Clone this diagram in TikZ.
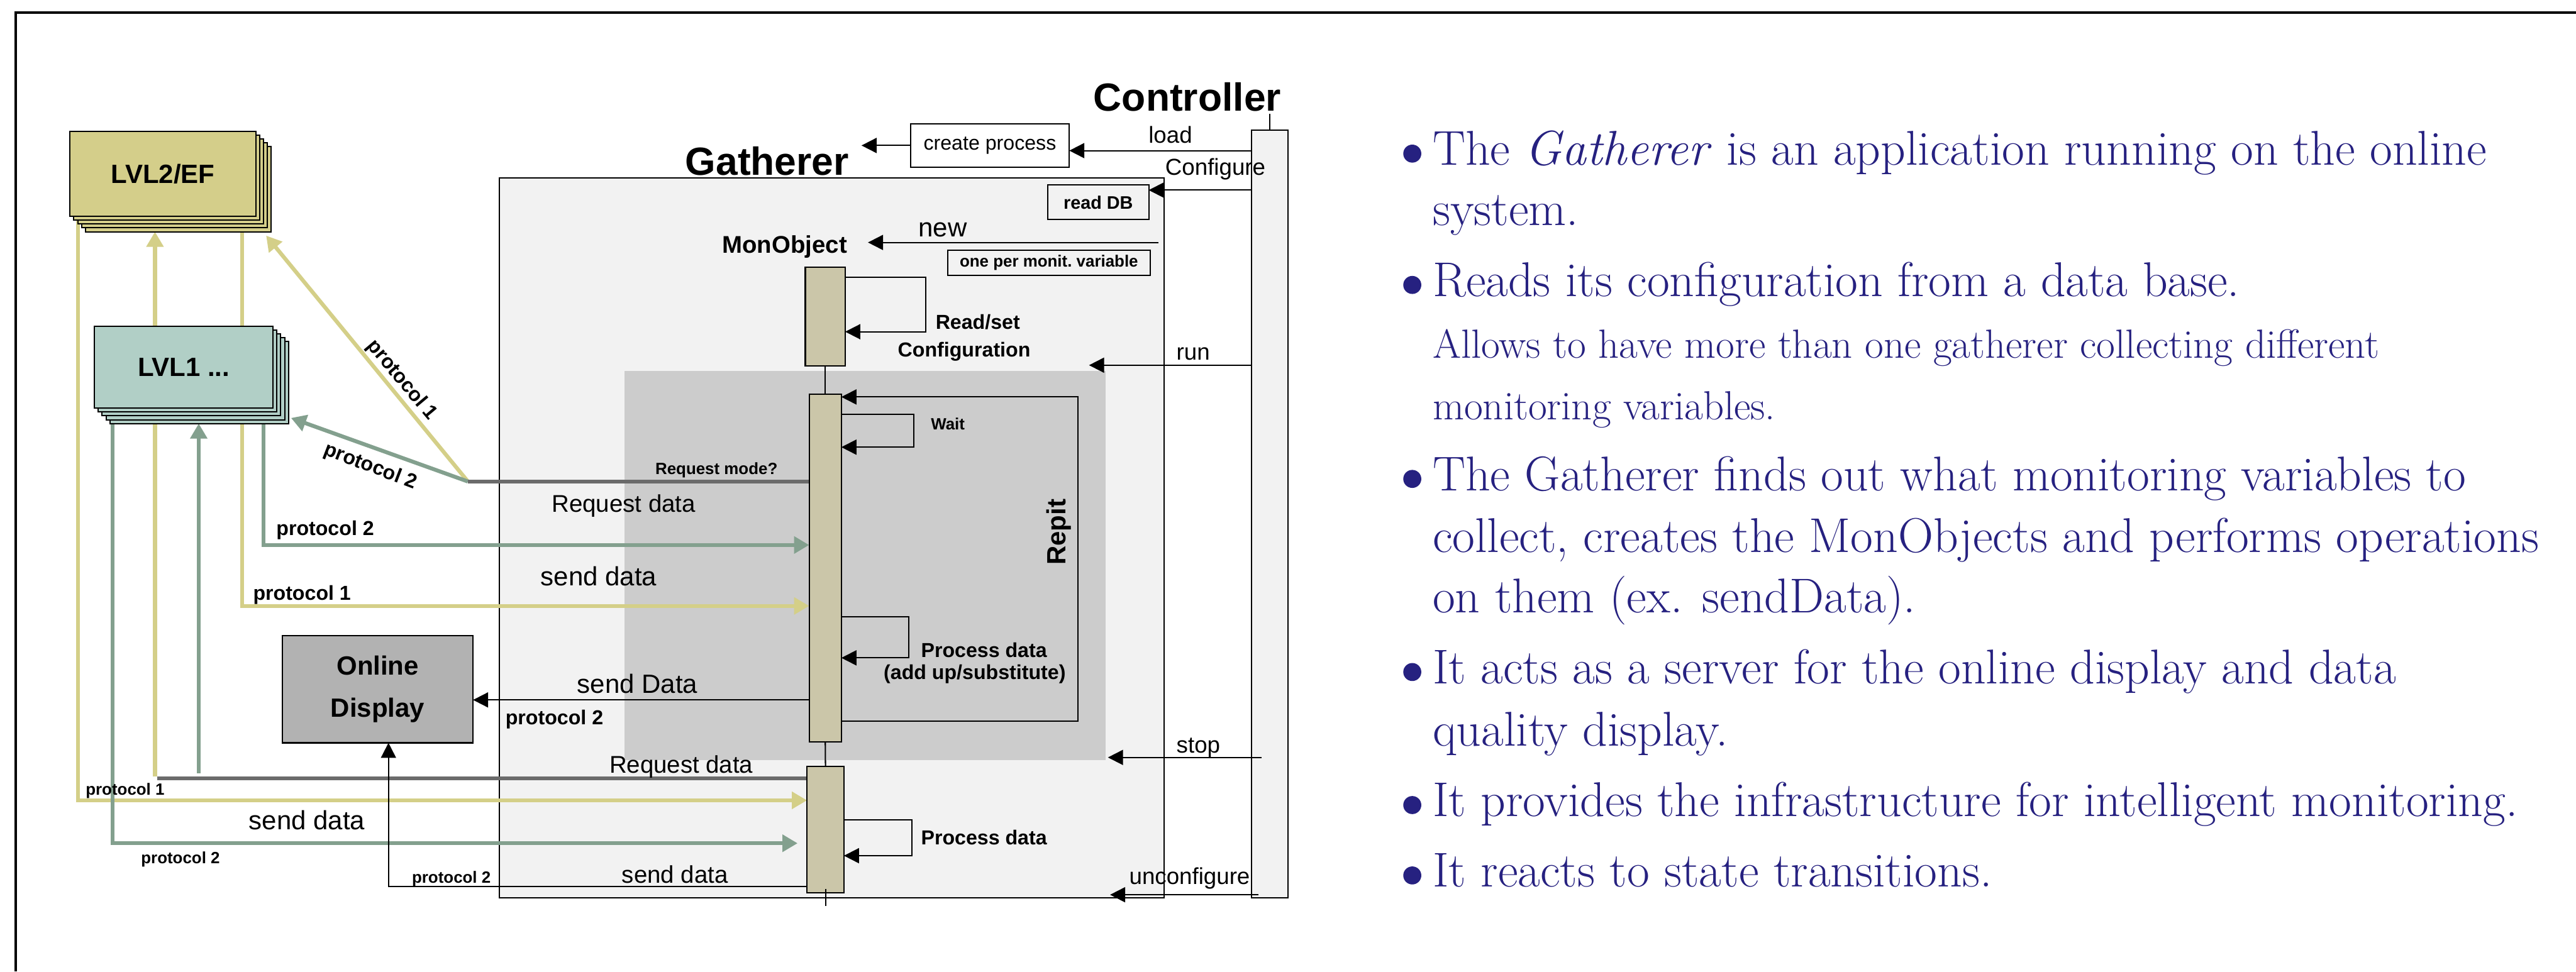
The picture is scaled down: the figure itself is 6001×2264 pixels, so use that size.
\documentclass[tikz,border=0pt]{standalone}
\usepackage{fontspec}
\newfontfamily\diagfont{Liberation Sans}
\usetikzlibrary{arrows.meta,backgrounds}

\definecolor{lvltwo}{RGB}{212,206,138}
\definecolor{lvlone}{RGB}{177,207,198}
\definecolor{protone}{RGB}{212,207,136}
\definecolor{prottwo}{RGB}{131,160,142}
\definecolor{reqgray}{RGB}{107,107,107}
\definecolor{gathbg}{RGB}{242,242,242}
\definecolor{repitbg}{RGB}{204,204,204}
\definecolor{actfill}{RGB}{203,198,169}
\definecolor{dispfill}{RGB}{178,178,178}
\definecolor{slideblue}{RGB}{38,33,128}

\tikzset{
  blk/.style={draw=black, line width=0.85pt},
  blkarrow/.style={blk, -{Triangle[length=10pt,width=10pt]}},
  colarrow/.style={-{Triangle[length=10pt,width=11pt]}},
  yelline/.style={draw=protone, line width=2.6pt},
  grnline/.style={draw=prottwo, line width=2.6pt},
  gryline/.style={draw=reqgray, line width=2.6pt},
  box/.style={draw=black, line width=0.85pt, inner sep=0pt, outer sep=0pt},
  actbox/.style={box, fill=actfill},
  lvltwobox/.style={box, fill=lvltwo, minimum width=43.3mm, minimum height=19.8mm},
  lvlonebox/.style={box, fill=lvlone, minimum width=41.6mm, minimum height=19.1mm},
  lbl/.style={inner sep=0pt, anchor=base west},
  headtxt/.style={font=\diagfont\bfseries\fontsize{26}{31}\selectfont},
  boldbig/.style={font=\diagfont\bfseries\fontsize{17.5}{21}\selectfont},
  boldmon/.style={font=\diagfont\bfseries\fontsize{16}{19}\selectfont},
  boldmid/.style={font=\diagfont\bfseries\fontsize{13.4}{16}\selectfont},
  boldread/.style={font=\diagfont\bfseries\fontsize{12}{14}\selectfont},
  boldsmall/.style={font=\diagfont\bfseries\fontsize{10.8}{13}\selectfont},
  plainbig/.style={font=\diagfont\fontsize{17.5}{21}\selectfont},
  plainmid/.style={font=\diagfont\fontsize{16}{19}\selectfont},
  plainctl/.style={font=\diagfont\fontsize{15.3}{18}\selectfont},
  plaincp/.style={font=\diagfont\fontsize{13.4}{16}\selectfont},
  slidetxt/.style={lbl, text=slideblue, font=\fontsize{32.4}{38}\selectfont},
  slidesmall/.style={lbl, text=slideblue, font=\fontsize{27}{32}\selectfont}
}

\begin{document}
\begin{tikzpicture}[x=0.1mm, y=-0.1mm]
\useasboundingbox (0,0) rectangle (6001,2264);

\begin{scope}[on background layer]
  \draw[line width=1.7pt] (37,2264) -- (37,29) -- (6001,29);
  \draw[fill=gathbg, line width=0.8pt] (1163,415) rectangle (2712,2092);
  \fill[repitbg] (1455,865) rectangle (2576,1771);
\end{scope}

\foreach \k in {4,3,2,1}
  \node[lvltwobox] (lvl2c\k) at (379.5+9*\k, 405+9*\k) {};
\node[lvltwobox, boldbig] (lvl2) at (379.5,405) {LVL2/EF};
\foreach \k in {4,3,2,1}
  \node[lvlonebox] (lvl1c\k) at (428+9*\k, 855.5+9*\k) {};
\node[lvlonebox, boldbig] (lvl1) at (428,855.5) {LVL1 ...};

\node[box, fill=dispfill, minimum width=44.4mm, minimum height=25mm, boldbig, align=center] (disp) at (880,1606) {Online\\[6.6pt]Display};

\node[box, fill=gathbg, minimum width=8.5mm, minimum height=178.9mm] (ctrl) at (2957.5,1197.5) {};
\node[actbox, minimum width=9.3mm, minimum height=23.1mm] (act0) at (1922.5,737.5) {};
\node[actbox, minimum width=7.5mm, minimum height=81.1mm] (act1) at (1922.5,1323.5) {};
\node[actbox, minimum width=8.6mm, minimum height=29.4mm] (act2) at (1923,1933) {};

\node[box, minimum width=37mm, minimum height=10.2mm, plaincp] (cproc) at (2306,339) {create process};
\node[box, minimum width=23.5mm, minimum height=8.1mm, boldread] (readdb) at (2558.5,471.5) {read DB};
\node[box, minimum width=47.1mm, minimum height=5.9mm, boldsmall] (perone) at (2443.5,612.5) {one per monit.\ variable};

\coordinate (reqpt) at (1090,1122);
\coordinate (yelreq) at (361,1810);
\coordinate (grnreq) at (463,1802);
\coordinate (grayend) at (366,1814);
\coordinate (lowgrn) at (1858,1965);
\coordinate (cprocout) at (2007,339);
\coordinate (newfrom) at (2699,565);
\coordinate (newto) at (2022,565);
\coordinate (runto) at (2537,851);
\coordinate (stopfrom) at (2939,1765);
\coordinate (stopto) at (2581,1765);
\coordinate (unconffrom) at (2932,2085);
\coordinate (unconfto) at (2586,2085);

\begin{scope}[on background layer]
  \draw[yelline, colarrow] (lvl2.south -| 182,0) |- (act2.west |- 0,1865);
  \draw[yelline, colarrow] (lvl2.south -| 564,0) |- (act1.west |- 0,1412);
  \draw[yelline, colarrow] (yelreq) -- (lvl2c4.south -| yelreq);
  \draw[gryline] (act2.west |- grayend) -- (grayend);
  \draw[grnline, colarrow] (lvl1.south -| 262,0) |- (lowgrn);
  \draw[grnline, colarrow] (lvl1.south -| 614,0) |- (act1.west |- 0,1270);
  \draw[grnline, colarrow] (grnreq) -- (lvl1c4.south -| grnreq);
  \draw[yelline, colarrow] (reqpt) -- ([xshift=-1.2mm,yshift=-0.9mm]lvl2c4.south east);
  \draw[grnline, colarrow] (reqpt) -- ([xshift=0.6mm,yshift=1.3mm]lvl1c4.south east);
  \draw[gryline] (reqpt) -- (act1.west |- reqpt);
\end{scope}

\draw[blk] (ctrl.north) -- ++(0,-38);
\draw[blk] (act0.south) -- (act1.north);
\draw[blk] (act1.south) -- (act2.north);
\draw[blk] ([yshift=0.9mm]act2.south) -- ++(0,40);

\draw[blkarrow] (ctrl.west |- 0,351) -- (cproc.east |- 0,351);
\draw[blkarrow] (cproc.west) -- (cprocout);
\draw[blkarrow] (ctrl.west |- 0,443) -- (readdb.east |- 0,443);
\draw[blkarrow] (newfrom) -- (newto);
\draw[blkarrow] (act0.east |- 0,646) -- (2156,646) -- (2156,773) -- (act0.east |- 0,773);
\draw[blkarrow] (ctrl.west |- runto) -- (runto);
\draw[blkarrow] (act1.east |- 0,1680) -- (2511,1680) -- (2511,925) -- (act1.east |- 0,925);
\draw[blkarrow] (act1.east |- 0,965) -- (2129,965) -- (2129,1042) -- (act1.east |- 0,1042);
\draw[blkarrow] (act1.east |- 0,1437) -- (2117,1437) -- (2117,1533) -- (act1.east |- 0,1533);
\draw[blkarrow] (act1.west |- 0,1631) -- (disp.east |- 0,1631);
\draw[blkarrow] (stopfrom) -- (stopto);
\draw[blkarrow] (act2.east |- 0,1910) -- (2124,1910) -- (2124,1994) -- (act2.east |- 0,1994);
\draw[blkarrow] (act2.west |- 0,2066) -| ([xshift=2.5mm]disp.south);
\draw[blkarrow] (unconffrom) -- (unconfto);

\node[lbl, headtxt] (lblctrl) at (2547,259) {Controller};
\node[lbl, headtxt] (lblgath) at (1596,408) {Gatherer};
\node[lbl, plainctl] (lblload) at (2675,334) {load};
\node[lbl, plainctl] (lblconf) at (2714,408) {Configure};
\node[lbl, plainbig] (lblnew) at (2139,552) {new};
\node[lbl, boldmon] (lblmon) at (1682,589) {MonObject};
\node[lbl, boldmid] (lblread) at (2179,767) {Read/set};
\node[lbl, boldmid] (lblconfig) at (2091,832) {Configuration};
\node[lbl, plainctl] (lblrun) at (2740,839) {run};
\node[lbl, boldsmall] (lblwait) at (2168,1002) {Wait};
\node[lbl, boldsmall] (lblreqmode) at (1526,1106) {Request mode?};
\node[lbl, plainmid] (lblreqa) at (1285,1194) {Request data};
\node[lbl, boldmid] (lblprotb) at (643,1248) {protocol 2};
\node[lbl, plainbig] (lblsenda) at (1259,1364) {send data};
\node[lbl, boldmid] (lblprota) at (589,1399) {protocol 1};
\node[lbl, boldmid] (lblproc) at (2145,1532) {Process data};
\node[lbl, boldmid] (lblsubst) at (2058,1583) {(add up/substitute)};
\node[boldbig, rotate=90, inner sep=0pt] (lblrepit) at (2466,1240) {Repit};
\node[lbl, plainbig] (lblsendD) at (1344,1615) {send Data};
\node[lbl, boldmid] (lblprotc) at (1177,1688) {protocol 2};
\node[lbl, plainctl] (lblstop) at (2740,1754) {stop};
\node[lbl, plainmid] (lblreqb) at (1419,1802) {Request data};
\node[lbl, boldsmall] (lblprotd) at (199,1852) {protocol 1};
\node[lbl, plainbig] (lblsendb) at (579,1933) {send data};
\node[lbl, boldmid] (lblprocb) at (2145,1969) {Process data};
\node[lbl, boldsmall] (lblprote) at (328,2012) {protocol 2};
\node[lbl, boldsmall] (lblprotf) at (959,2057) {protocol 2};
\node[lbl, plainmid] (lblsendc) at (1448,2057) {send data};
\node[lbl, plainctl] (lblunconf) at (2630,2061) {unconfigure};
\node[boldmid, rotate=-50, inner sep=0pt] (lbldiaga) at (936,886) {protocol 1};
\node[boldmid, rotate=-21, inner sep=0pt] (lbldiagb) at (863,1088) {protocol 2};

\foreach \yb in {385,691,1143,1593,1903,2067}
  \fill[slideblue] (3290,\yb-27) circle (21);
\node[slidetxt] (txta) at (3337,385) {The \emph{Gatherer} is an application running on the online};
\node[slidetxt] (txtb) at (3337,525) {system.};
\node[slidetxt] (txtc) at (3337,691) {Reads its configuration from a data base.};
\node[slidesmall] (txtd) at (3337,835) {Allows to have more than one gatherer collecting different};
\node[slidesmall] (txte) at (3337,978) {monitoring variables.};
\node[slidetxt] (txtf) at (3337,1143) {The Gatherer finds out what monitoring variables to};
\node[slidetxt] (txtg) at (3337,1287) {collect, creates the MonObjects and performs operations};
\node[slidetxt] (txth) at (3337,1428) {on them (ex. sendData).};
\node[slidetxt] (txti) at (3337,1593) {It acts as a server for the online display and data};
\node[slidetxt] (txtj) at (3337,1738) {quality display.};
\node[slidetxt] (txtk) at (3337,1903) {It provides the infrastructure for intelligent monitoring.};
\node[slidetxt] (txtl) at (3337,2067) {It reacts to state transitions.};
\end{tikzpicture}
\end{document}
